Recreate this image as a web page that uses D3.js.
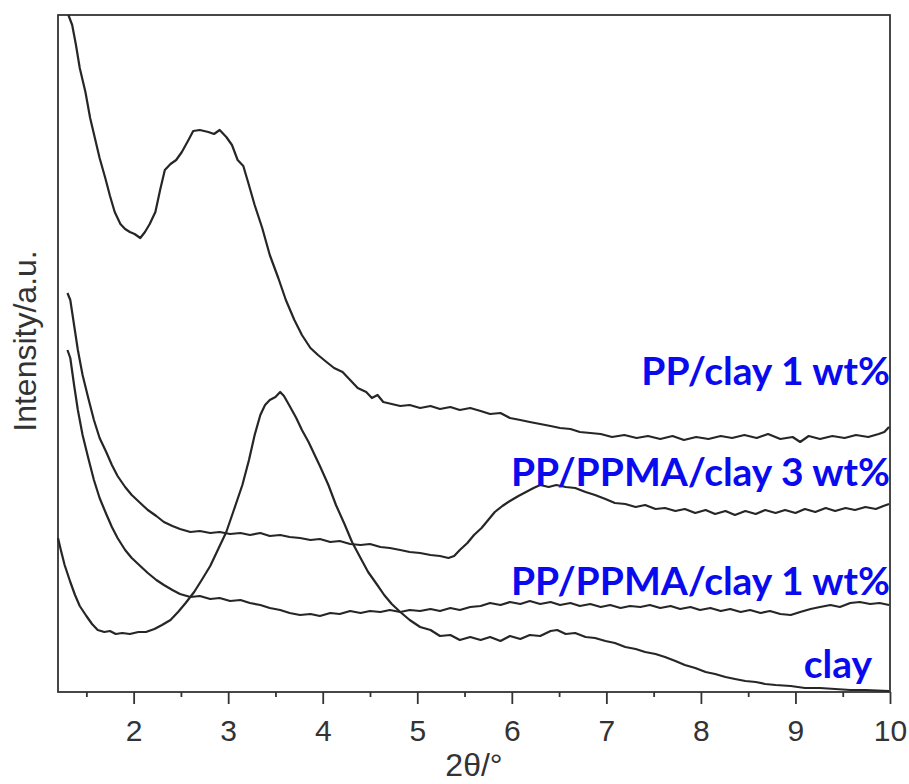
<!DOCTYPE html>
<html>
<head>
<meta charset="utf-8">
<script src="https://cdn.jsdelivr.net/npm/d3@7"></script>
<style>
  html, body { margin: 0; padding: 0; background: #fff; }
  svg { display: block; }
  .tick-label { font-family: "Liberation Sans", Arial, sans-serif; font-size: 30px; fill: #333; }
  .axis-title { font-family: "Liberation Sans", Arial, sans-serif; font-size: 32px; fill: #333; }
  .series-label { font-family: Lato, "Open Sans", sans-serif; font-weight: 700; font-size: 39px; fill: #0a0aef; }
</style>
</head>
<body>
<svg id="chart" width="909" height="784"></svg>
<script>
// XRD patterns, 2θ (degrees) vs intensity (a.u.)
const ppClay1Theta = [1.31,1.35,1.39,1.43,1.49,1.54,1.59,1.64,1.70,1.75,1.80,1.86,1.91,1.96,2.01,2.07,2.12,2.17,2.23,2.28,2.33,2.39,2.45,2.51,2.58,2.63,2.70,2.79,2.85,2.91,2.98,3.04,3.10,3.16,3.21,3.28,3.36,3.44,3.53,3.61,3.70,3.78,3.87,3.95,4.04,4.12,4.21,4.29,4.37,4.46,4.52,4.58,4.64,4.73,4.82,4.92,5.03,5.14,5.24,5.35,5.45,5.56,5.67,5.77,5.88,5.98,6.09,6.19,6.30,6.41,6.51,6.62,6.72,6.83,6.94,7.06,7.19,7.32,7.44,7.57,7.70,7.82,7.95,8.08,8.21,8.33,8.46,8.59,8.71,8.84,8.97,9.05,9.14,9.26,9.39,9.52,9.64,9.77,9.88,9.94,9.99];
const ppClay1 = [676,666,646,623,599,573,553,533,513,495,479,467,462,459,457,453,459,467,479,501,521,527,531,539,551,560,561,559,557,561,554,546,531,525,509,486,463,436,413,391,371,356,343,336,329,323,319,311,303,299,293,296,289,287,285,286,283,285,282,284,281,283,280,277,278,273,271,269,267,265,263,262,259,258,257,254,256,253,255,252,255,251,254,252,255,253,256,253,257,252,254,249,255,252,255,253,256,254,257,259,264];

const ppmaClay3Theta = [1.30,1.33,1.37,1.41,1.46,1.52,1.58,1.64,1.71,1.77,1.83,1.91,1.98,2.07,2.15,2.24,2.32,2.41,2.49,2.60,2.70,2.81,2.91,3.02,3.13,3.23,3.34,3.44,3.55,3.65,3.76,3.87,3.97,4.08,4.18,4.29,4.40,4.50,4.61,4.71,4.82,4.92,5.03,5.14,5.24,5.33,5.39,5.45,5.53,5.60,5.68,5.75,5.82,5.90,5.98,6.07,6.15,6.23,6.30,6.39,6.47,6.57,6.67,6.78,6.88,6.99,7.09,7.20,7.31,7.41,7.52,7.62,7.73,7.83,7.94,8.05,8.15,8.26,8.36,8.47,8.58,8.68,8.79,8.89,9.00,9.10,9.21,9.32,9.42,9.53,9.63,9.74,9.85,9.93,9.99];
const ppmaClay3 = [398,391,366,341,316,293,271,253,239,226,215,204,196,188,181,175,169,165,162,159,160,158,159,157,158,156,158,155,156,154,153,151,152,149,150,147,146,147,144,143,141,139,138,136,135,133,135,141,148,156,163,171,179,185,190,195,199,203,206,204,206,204,203,199,196,192,188,187,184,186,182,183,180,182,178,181,177,180,176,180,177,181,178,181,178,182,179,183,180,183,181,184,182,185,187];

const ppmaClay1Theta = [1.30,1.33,1.37,1.41,1.46,1.52,1.58,1.64,1.71,1.77,1.83,1.91,1.98,2.07,2.15,2.24,2.32,2.41,2.49,2.60,2.70,2.81,2.91,3.02,3.13,3.23,3.34,3.44,3.55,3.65,3.76,3.87,3.97,4.08,4.18,4.29,4.40,4.50,4.61,4.71,4.82,4.92,5.03,5.14,5.24,5.35,5.45,5.56,5.67,5.77,5.88,5.98,6.09,6.19,6.30,6.41,6.51,6.62,6.72,6.83,6.94,7.04,7.15,7.25,7.36,7.46,7.57,7.68,7.78,7.89,7.99,8.10,8.21,8.31,8.42,8.52,8.63,8.73,8.84,8.95,9.05,9.16,9.26,9.37,9.47,9.58,9.68,9.79,9.89,9.99];
const ppmaClay1 = [341,333,306,281,256,233,211,193,177,164,153,141,133,125,118,111,106,101,97,94,95,92,93,90,91,88,86,83,81,78,76,77,75,78,77,80,78,80,79,81,79,81,80,82,80,83,81,84,85,88,86,89,87,90,87,89,86,88,85,87,84,86,83,85,84,86,83,85,82,84,81,83,80,82,79,81,78,80,77,76,79,82,84,86,84,88,89,87,88,86];

const clayTheta = [1.20,1.23,1.27,1.33,1.38,1.43,1.50,1.56,1.62,1.69,1.75,1.81,1.88,1.96,2.05,2.13,2.22,2.30,2.39,2.47,2.55,2.64,2.72,2.81,2.89,2.98,3.06,3.15,3.22,3.28,3.34,3.39,3.44,3.50,3.55,3.59,3.65,3.72,3.78,3.85,3.91,3.97,4.06,4.14,4.23,4.31,4.40,4.48,4.57,4.65,4.73,4.82,4.92,5.03,5.14,5.24,5.35,5.45,5.56,5.67,5.77,5.88,5.98,6.09,6.19,6.30,6.41,6.48,6.57,6.67,6.78,6.88,6.99,7.09,7.20,7.31,7.41,7.52,7.62,7.73,7.83,7.94,8.05,8.15,8.26,8.36,8.47,8.58,8.68,8.79,8.95,9.10,9.26,9.42,9.58,9.74,9.99];
const clay = [153,141,126,109,96,85,75,67,61,59,60,57,58,57,59,59,62,66,71,79,88,99,111,125,141,159,181,206,231,256,276,286,291,294,299,295,285,273,261,249,237,225,206,186,167,149,133,119,107,96,87,79,71,64,61,55,56,51,54,51,54,50,55,52,56,55,60,61,57,58,54,53,50,48,44,42,39,37,34,30,26,23,19,17,14,12,10,9,7,6,5,3,3,2,1,1,0];

const seriesNames = ['PP/clay 1 wt%', 'PP/PPMA/clay 3 wt%', 'PP/PPMA/clay 1 wt%', 'clay'];
const majorTicks = [2, 3, 4, 5, 6, 7, 8, 9, 10];
const minorTicks = [1.5, 2.5, 3.5, 4.5, 5.5, 6.5, 7.5, 8.5, 9.5];

const series = [
  { name: seriesNames[0], theta: ppClay1Theta, y: ppClay1 },
  { name: seriesNames[1], theta: ppmaClay3Theta, y: ppmaClay3 },
  { name: seriesNames[2], theta: ppmaClay1Theta, y: ppmaClay1 },
  { name: seriesNames[3], theta: clayTheta, y: clay }
];

const svg = d3.select('#chart');
const margin = { top: 15, right: 19, bottom: 92, left: 58 };
const width = 909 - margin.left - margin.right;
const height = 784 - margin.top - margin.bottom;

const x = d3.scaleLinear().domain([1.2, 10]).range([0, width]);
const y = d3.scaleLinear().domain([0, 676]).range([height - 1, 0]);

const g = svg.append('g').attr('transform', `translate(${margin.left},${margin.top})`);

// frame
g.append('rect')
  .attr('width', width)
  .attr('height', height)
  .attr('fill', 'none')
  .attr('stroke', '#333')
  .attr('stroke-width', 1.8);

// bottom axis: major + minor ticks, outward
const xAxis = g.append('g').attr('transform', `translate(0,${height})`)
  .call(d3.axisBottom(x).tickValues(majorTicks).tickSize(12).tickFormat(d3.format('d')));
xAxis.select('.domain').remove();
xAxis.selectAll('.tick line').attr('stroke', '#333').attr('stroke-width', 1.8);
xAxis.selectAll('.tick text').attr('class', 'tick-label').attr('font-size', null).attr('font-family', null).attr('y', 0).attr('dy', 49);

const xMinor = g.append('g').attr('transform', `translate(0,${height})`)
  .call(d3.axisBottom(x).tickValues(minorTicks).tickSize(5).tickFormat(''));
xMinor.select('.domain').remove();
xMinor.selectAll('.tick line').attr('stroke', '#333').attr('stroke-width', 1.8);

// curves
const line = d3.line()
  .x(d => x(d[0]))
  .y(d => y(d[1]));

g.selectAll('path.trace')
  .data(series)
  .enter()
  .append('path')
  .attr('class', 'trace')
  .attr('d', s => line(s.theta.map((t, i) => [t, s.y[i]])))
  .attr('fill', 'none')
  .attr('stroke', '#262626')
  .attr('stroke-width', 2.2)
  .attr('stroke-linejoin', 'round');

// series labels (right-aligned near each trace)
const labelPos = [
  { x: 890, y: 385 },
  { x: 890, y: 486 },
  { x: 890, y: 595 },
  { x: 872, y: 678 }
];
svg.selectAll('text.series-label')
  .data(seriesNames)
  .enter()
  .append('text')
  .attr('class', 'series-label')
  .attr('text-anchor', 'end')
  .attr('x', (d, i) => labelPos[i].x)
  .attr('y', (d, i) => labelPos[i].y)
  .text(d => d);

// axis titles
svg.append('text')
  .attr('class', 'axis-title')
  .attr('text-anchor', 'middle')
  .attr('x', margin.left + x(5.6))
  .attr('y', 776)
  .text('2θ/°');

svg.append('text')
  .attr('class', 'axis-title')
  .attr('text-anchor', 'middle')
  .attr('transform', 'translate(36,341) rotate(-90)')
  .text('Intensity/a.u.');
</script>
</body>
</html>
